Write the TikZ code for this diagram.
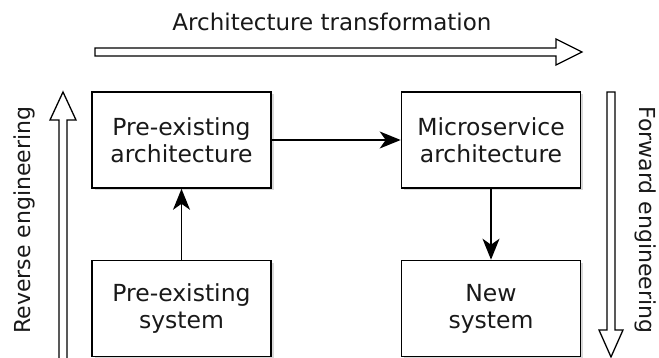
\documentclass[tikz,border=0pt]{standalone}
\usepackage{fontspec}
\setmainfont{DejaVu Sans}
\usetikzlibrary{arrows.meta,shadows}
\begin{document}
\begin{tikzpicture}[x=1pt,y=-1pt,
  box/.style={draw, line width=1.6pt, fill=white, minimum width=179pt, minimum height=96pt,
    align=center, font=\fontsize{23.5}{27}\selectfont, inner sep=0pt, text=black!90,
    drop shadow={shadow xshift=2.5pt, shadow yshift=-2.5pt, opacity=0.15, fill=black}},
  conn/.style={line width=1.6pt, -{Stealth[length=21pt,width=17pt,inset=6pt]}},
  hollow/.style={draw, line width=1.3pt, fill=white, line join=miter},
  lbl/.style={inner sep=0pt, text=black!90}]
\useasboundingbox (0,0) rectangle (659,358);
\fill[white] (0,0) rectangle (659,358);

\node[box] (A) at (181.5,140) {Pre‑existing\\architecture};
\node[box] (B) at (181.5,308.5) {Pre‑existing\\system};
\node[box] (C) at (491,140) {Microservice\\architecture};
\node[box] (D) at (491,308.5) {New\\system};

\draw[conn] (A.east) -- (C.west);
\draw[conn] (B.north) -- (A.south);
\draw[conn] (C.south) -- (D.north);

% top hollow arrow
\path[hollow] (95,48) -- (556,48) -- (556,39) -- (582,52) -- (556,65) -- (556,56) -- (95,56) -- cycle;
\node[lbl, font=\fontsize{23}{27}\selectfont] (T) at (332,22) {Architecture transformation};

% left hollow arrow (up)
\path[hollow] (59,360) -- (59,120) -- (50,120) -- (63,92) -- (76,120) -- (67,120) -- (67,360) -- cycle;
\node[lbl, rotate=90, font=\fontsize{22}{26}\selectfont] (L) at (24,220) {Reverse engineering};

% right hollow arrow (down)
\path[hollow] (607,92) -- (607,330) -- (599,330) -- (611,357) -- (623,330) -- (615,330) -- (615,92) -- cycle;
\node[lbl, rotate=-90, font=\fontsize{22}{26}\selectfont] (R) at (646,220) {Forward engineering};
\end{tikzpicture}
\end{document}
